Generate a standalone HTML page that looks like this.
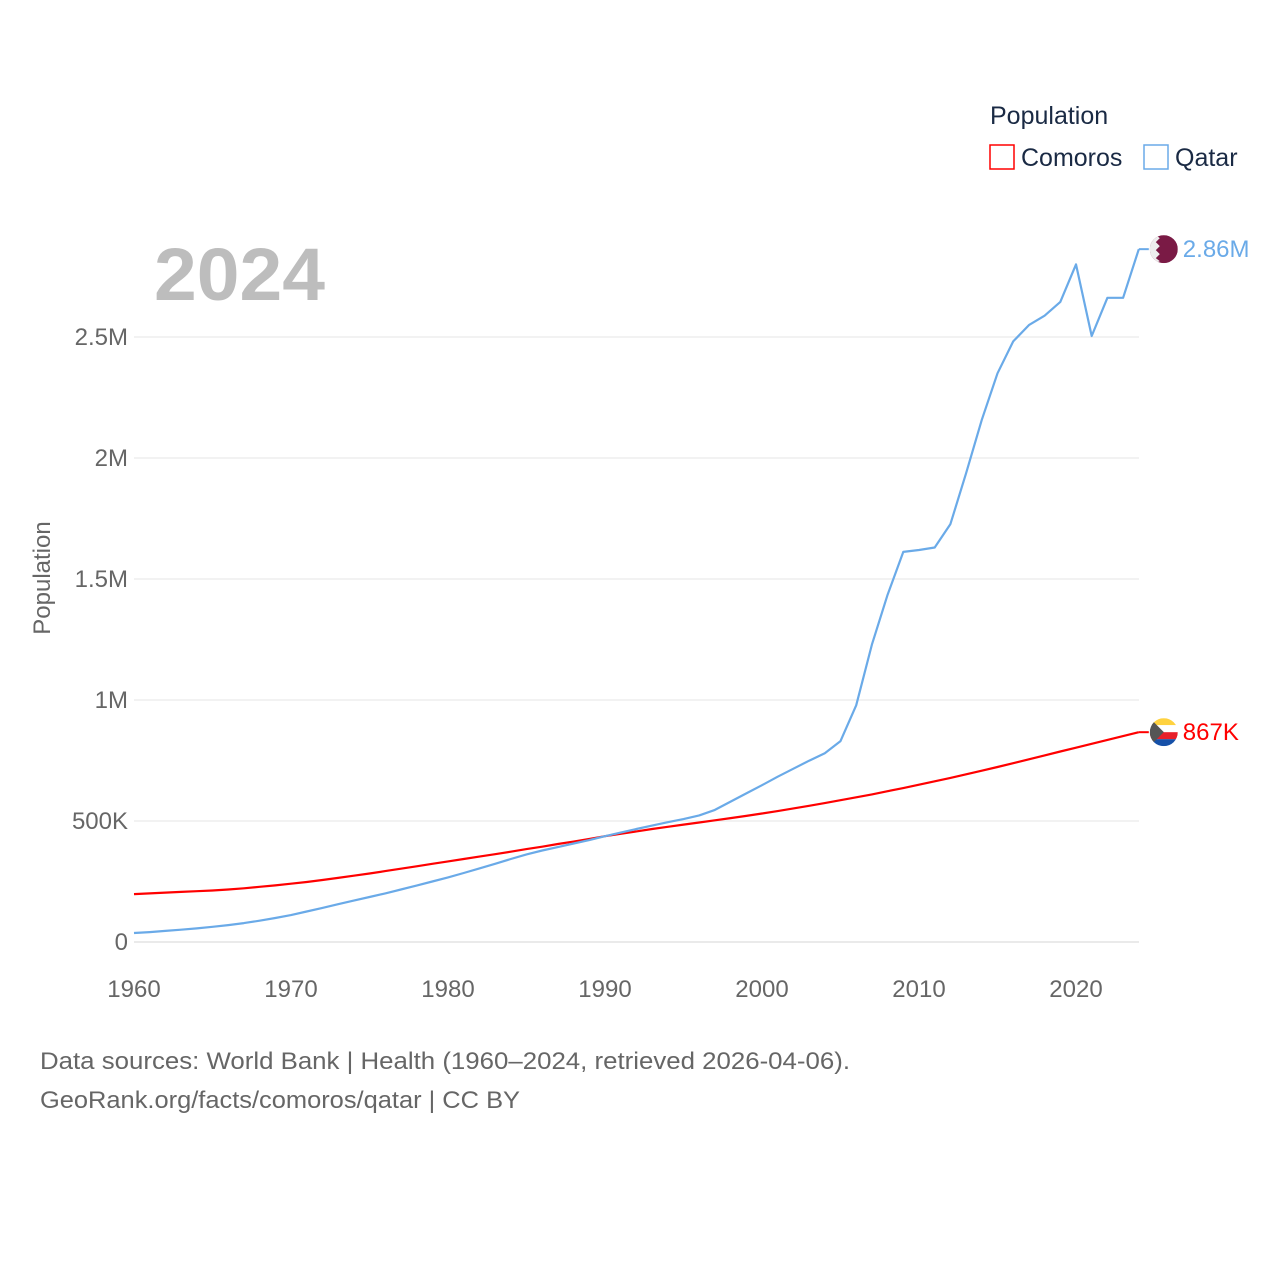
<!DOCTYPE html>
<html><head><meta charset="utf-8"><style>
body{margin:0;background:#fff;}
svg{display:block;font-family:"Liberation Sans",sans-serif;}
</style></head><body>
<svg width="1280" height="1280" viewBox="0 0 1280 1280">
<g id="grid"></g>
<g id="axes"></g>
<text x="154" y="300" font-size="74" font-weight="bold" fill="#bdbdbd" textLength="171" lengthAdjust="spacingAndGlyphs">2024</text>
<text transform="translate(50,578) rotate(-90)" text-anchor="middle" font-size="24" fill="#666">Population</text>
<g id="series"></g>
<g>
<text x="990" y="124" font-size="25" fill="#1a2a44">Population</text>
<g><rect x="990" y="145" width="24" height="24" fill="none" stroke="#ff0000" stroke-width="1.5"/><text x="1021" y="166" font-size="25" fill="#1a2a44">Comoros</text></g>
<g><rect x="1144" y="145" width="24" height="24" fill="none" stroke="#6aaae8" stroke-width="1.5"/><text x="1175" y="166" font-size="25" fill="#1a2a44">Qatar</text></g>
</g>
<g>
<text x="40" y="1069" font-size="24" fill="#666" textLength="810" lengthAdjust="spacingAndGlyphs">Data sources: World Bank | Health (1960–2024, retrieved 2026-04-06).</text>
<text x="40" y="1108" font-size="24" fill="#666" textLength="480" lengthAdjust="spacingAndGlyphs">GeoRank.org/facts/comoros/qatar | CC BY</text>
</g>
</svg>
<script>
const years=[];for(let y=1960;y<=2024;y++)years.push(y);
const qatar=[.037,.041,.046,.051,.056,.063,.070,.078,.088,.099,.111,.126,.141,.156,.171,.186,.201,.217,.233,.250,.267,.285,.304,.323,.343,.362,.378,.392,.407,.421,.437,.452,.467,.481,.495,.508,.523,.546,.580,.614,.648,.683,.716,.749,.780,.830,.978,1.229,1.435,1.612,1.620,1.630,1.727,1.937,2.158,2.350,2.482,2.549,2.588,2.645,2.800,2.504,2.662,2.662,2.863];
const comoros=[.198,.201,.204,.207,.210,.213,.217,.222,.228,.234,.241,.248,.256,.265,.274,.283,.293,.303,.313,.323,.333,.343,.353,.363,.373,.384,.394,.405,.415,.426,.437,.447,.457,.467,.476,.485,.494,.503,.512,.521,.531,.541,.552,.563,.574,.586,.598,.610,.623,.636,.650,.664,.678,.693,.708,.723,.739,.755,.771,.787,.803,.819,.835,.851,.867];
const yTicks=[0,0.5,1,1.5,2,2.5];
const yTickLabels=["0","500K","1M","1.5M","2M","2.5M"];
const xTicks=[1960,1970,1980,1990,2000,2010,2020];
const NS="http://www.w3.org/2000/svg";
const X=yr=>134+(yr-1960)*15.7;
const Y=v=>942-v*242;
function mk(t,a,p){const e=document.createElementNS(NS,t);for(const k in a)e.setAttribute(k,a[k]);p.appendChild(e);return e;}
const grid=document.getElementById('grid'),axes=document.getElementById('axes'),ser=document.getElementById('series');
yTicks.forEach((v,i)=>{
 const l=mk('line',{x1:134,x2:1139,y1:Y(v),y2:Y(v),stroke:v===0?'#ddd':'#ebebeb','stroke-width':1.3},grid);
 
 
 const t=mk('text',{x:128,y:Y(v)+8,'text-anchor':'end','font-size':24,fill:'#666'},axes);
 t.textContent=yTickLabels[i];
 
 
});
xTicks.forEach(yr=>{
 const t=mk('text',{x:X(yr),y:997,'text-anchor':'middle','font-size':24,fill:'#666'},axes);
 t.textContent=yr;
 
 
});
function line(data,color,name){
 const d=data.map((v,i)=>(i?'L':'M')+X(years[i]).toFixed(1)+','+Y(v).toFixed(1)).join(' ');
 const p=mk('path',{d:d,fill:'none',stroke:color,'stroke-width':2.2,'stroke-linejoin':'round'},ser);
 
 
}
line(comoros,'#ff0000','comoros-line');
line(qatar,'#6aaae8','qatar-line');
const lastQ=qatar[qatar.length-1],lastC=comoros[comoros.length-1];
const xe=X(2024);
mk('line',{x1:xe,x2:xe+10,y1:Y(lastQ),y2:Y(lastQ),stroke:'#6aaae8','stroke-width':2},ser);
mk('line',{x1:xe,x2:xe+10,y1:Y(lastC),y2:Y(lastC),stroke:'#ff0000','stroke-width':2},ser);
const fq=mk('g',{},ser);


const qy=Y(lastQ),qx=xe+25;
mk('clipPath',{id:'cq'},fq);
mk('circle',{cx:qx,cy:qy,r:14},fq.lastChild);
const qg=mk('g',{'clip-path':'url(#cq)'},fq);
mk('rect',{x:qx-14,y:qy-14,width:28,height:28,fill:'#7a1a45'},qg);
mk('path',{d:`M${qx-14},${qy-14} L${qx-8},${qy-14} L${qx-4},${qy-11} L${qx-8},${qy-7} L${qx-4},${qy-3} L${qx-8},${qy+1} L${qx-4},${qy+5} L${qx-8},${qy+9} L${qx-4},${qy+12} L${qx-8},${qy+14} L${qx-14},${qy+14}Z`,fill:'#eee'},qg);
const fc=mk('g',{},ser);


const cy=Y(lastC),cx=xe+25;
mk('clipPath',{id:'cc'},fc);
mk('circle',{cx:cx,cy:cy,r:14},fc.lastChild);
const cg=mk('g',{'clip-path':'url(#cc)'},fc);
mk('rect',{x:cx-14,y:cy-14,width:28,height:7,fill:'#ffd23f'},cg);
mk('rect',{x:cx-14,y:cy-7,width:28,height:7,fill:'#fff'},cg);
mk('rect',{x:cx-14,y:cy,width:28,height:7,fill:'#e8202a'},cg);
mk('rect',{x:cx-14,y:cy+7,width:28,height:7,fill:'#1550a8'},cg);
mk('path',{d:`M${cx-14},${cy-14} L${cx},${cy} L${cx-14},${cy+14}Z`,fill:'#555'},cg);
const lq=mk('text',{x:xe+44,y:Y(lastQ)+8,'font-size':24,fill:'#6aaae8'},ser);
lq.textContent=(lastQ).toFixed(2)+'M';


const lc=mk('text',{x:xe+44,y:Y(lastC)+8,'font-size':24,fill:'#ff0000'},ser);
lc.textContent=Math.round(lastC*1000)+'K';


</script>
</body></html>
